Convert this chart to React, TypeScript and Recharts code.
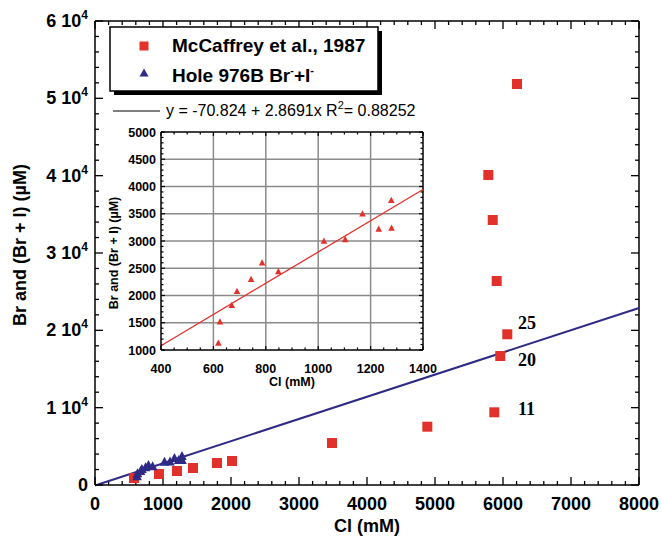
import React from 'react';
import { ScatterChart, Scatter, XAxis, YAxis, ReferenceLine } from 'recharts';

// McCaffrey et al., 1987 (red squares): Cl (mM) vs Br (µM)
const mcCl = [574, 941, 1206, 1441, 1794, 2015, 3485, 4887, 5872, 5960, 6063, 5907, 5849, 5784, 6206];
const mcBr = [905, 1422, 1810, 2198, 2845, 3104, 5431, 7539, 9401, 16682, 19488, 26380, 34268, 40088, 51856];

// Hole 976B Br- + I- (triangles): Cl (mM) vs Br + I (µM)
const holeCl = [619, 625, 670, 690, 744, 786, 848, 1022, 1103, 1169, 1231, 1279, 1280];
const holeBrI = [1130, 1520, 1820, 2080, 2300, 2600, 2440, 3000, 3030, 3500, 3220, 3750, 3240];

// Linear fit shown in the legend: y = a + b x
const fitIntercept = -70.824;
const fitSlope = 2.8691;

// Annotations (sample numbers) beside points
const noteText = ['25', '20', '11'];
const noteCl = [6220, 6220, 6220];
const noteVal = [20950, 16160, 9830];

// Axis tick definitions
const mainXMajor = [0, 1000, 2000, 3000, 4000, 5000, 6000, 7000, 8000];
const mainYMajor = [0, 10000, 20000, 30000, 40000, 50000, 60000];
const mainYLabels = ['0', '1', '2', '3', '4', '5', '6'];
const insetXMajor = [400, 600, 800, 1000, 1200, 1400];
const insetYMajor = [1000, 1500, 2000, 2500, 3000, 3500, 4000, 4500, 5000];

const range = (a: number, b: number, s: number) => {
  const out: number[] = [];
  for (let v = a; v <= b + 1e-9; v += s) out.push(v);
  return out;
};
const mainXTicks = range(0, 8000, 200);
const mainYTicks = range(0, 60000, 2000);
const insetXTicks = range(400, 1400, 50);
const insetYTicks = range(1000, 5000, 100);

const mcData = mcCl.map((cl, i) => ({ cl, v: mcBr[i] }));
const holeData = holeCl.map((cl, i) => ({ cl, v: holeBrI[i] }));
const noteData = noteText.map((t, i) => ({ cl: noteCl[i], v: noteVal[i], t }));

const RED = '#e2312b';
const BLUE = '#2e2a85';
const FONT = '"Liberation Sans", Arial, sans-serif';

const isMajor = (v: number, list: number[]) => list.some((m) => Math.abs(m - v) < 1e-6);

// ---------- tick labels ----------
const MainBottomTick = (p: any) => {
  const v = p.payload.value;
  if (!isMajor(v, mainXMajor)) return <g />;
  return (
    <text x={p.x} y={Number(p.y) + 25} textAnchor="middle" fontSize={18} fontWeight="bold" fontFamily={FONT} fill="#000">
      {v}
    </text>
  );
};
const MainLeftTick = (p: any) => {
  const v = p.payload.value;
  const idx = mainYMajor.findIndex((m) => Math.abs(m - v) < 1e-6);
  if (idx < 0) return <g />;
  return (
    <text x={Number(p.x) - 7} y={Number(p.y) + 6} textAnchor="end" fontSize={18} fontWeight="bold" fontFamily={FONT} fill="#000">
      {idx === 0 ? (
        '0'
      ) : (
        <>
          {mainYLabels[idx] + ' 10'}
          <tspan dy={-8} fontSize={12}>4</tspan>
        </>
      )}
    </text>
  );
};
const InsetBottomTick = (p: any) => {
  const v = p.payload.value;
  if (!isMajor(v, insetXMajor)) return <g />;
  return (
    <text x={p.x} y={Number(p.y) + 23} textAnchor="middle" fontSize={12.5} fontWeight="bold" fontFamily={FONT} fill="#000">
      {v}
    </text>
  );
};
const InsetLeftTick = (p: any) => {
  const v = p.payload.value;
  if (!isMajor(v, insetYMajor)) return <g />;
  return (
    <text x={Number(p.x) - 5} y={Number(p.y) + 4.5} textAnchor="end" fontSize={12.5} fontWeight="bold" fontFamily={FONT} fill="#000">
      {v}
    </text>
  );
};

// ---------- inward tick marks drawn through the chart scales ----------
// px -> data-unit conversion for tick lengths (plot area sizes)
const tickMarks = (
  xs: number[], ys: number[], xMaj: number[], yMaj: number[],
  xDom: [number, number], yDom: [number, number], wPx: number, hPx: number,
  majPx: number, minPx: number, sw: number, key: string
) => {
  const ux = (xDom[1] - xDom[0]) / wPx;
  const uy = (yDom[1] - yDom[0]) / hPx;
  const out: any[] = [];
  xs.forEach((v) => {
    const L = (isMajor(v, xMaj) ? majPx : minPx) * uy;
    out.push(<ReferenceLine key={key + 'b' + v} segment={[{ x: v, y: yDom[0] }, { x: v, y: yDom[0] + L }]} stroke="#000" strokeWidth={sw} ifOverflow="visible" />);
    out.push(<ReferenceLine key={key + 't' + v} segment={[{ x: v, y: yDom[1] }, { x: v, y: yDom[1] - L }]} stroke="#000" strokeWidth={sw} ifOverflow="visible" />);
  });
  ys.forEach((v) => {
    const L = (isMajor(v, yMaj) ? majPx : minPx) * ux;
    out.push(<ReferenceLine key={key + 'l' + v} segment={[{ x: xDom[0], y: v }, { x: xDom[0] + L, y: v }]} stroke="#000" strokeWidth={sw} ifOverflow="visible" />);
    out.push(<ReferenceLine key={key + 'r' + v} segment={[{ x: xDom[1], y: v }, { x: xDom[1] - L, y: v }]} stroke="#000" strokeWidth={sw} ifOverflow="visible" />);
  });
  return out;
};

// ---------- markers ----------
const Square = (p: any) => <rect x={p.cx - 5} y={p.cy - 5} width={10} height={10} fill={RED} />;
const BigTri = (p: any) => (
  <polygon points={`${p.cx},${p.cy - 5} ${p.cx - 4.8},${p.cy + 4} ${p.cx + 4.8},${p.cy + 4}`} fill={BLUE} />
);
const SmallTri = (p: any) => (
  <polygon points={`${p.cx},${p.cy - 3.5} ${p.cx - 3.3},${p.cy + 2.8} ${p.cx + 3.3},${p.cy + 2.8}`} fill={RED} />
);
const NoteText = (p: any) => (
  <text x={p.cx} y={p.cy + 6} fontSize={18} fontWeight="bold" fontFamily='"Liberation Serif", "Times New Roman", serif' fill="#000">
    {p.payload.t}
  </text>
);

const axisLine = { stroke: '#000', strokeWidth: 1.5 };

const MainXLabel = (lp: any) => {
  const vb = lp.viewBox;
  return (
    <text x={vb.x + vb.width / 2} y={vb.y + 47} textAnchor="middle" fontSize={18} fontWeight="bold" fontFamily={FONT} fill="#000">
      Cl (mM)
    </text>
  );
};
const MainYLabel = (lp: any) => {
  const vb = lp.viewBox;
  const cx = 20;
  const cy = vb.y + vb.height / 2 - 8;
  return (
    <text x={cx} y={cy} transform={`rotate(-90 ${cx} ${cy})`} textAnchor="middle" dominantBaseline="central" fontSize={18} fontWeight="bold" fontFamily={FONT} fill="#000">
      Br and (Br + I) (µM)
    </text>
  );
};
const InsetXLabel = (lp: any) => {
  const vb = lp.viewBox;
  return (
    <text x={vb.x + vb.width / 2} y={vb.y + 36} textAnchor="middle" fontSize={12.5} fontWeight="bold" fontFamily={FONT} fill="#000">
      Cl (mM)
    </text>
  );
};
const InsetYLabel = (lp: any) => {
  const vb = lp.viewBox;
  const cx = 19;
  const cy = vb.y + vb.height / 2 + 12;
  return (
    <text x={cx} y={cy} transform={`rotate(-90 ${cx} ${cy})`} textAnchor="middle" dominantBaseline="central" fontSize={12.5} fontWeight="bold" fontFamily={FONT} fill="#000">
      Br and (Br + I) (µM)
    </text>
  );
};

export default function App() {
  const mainLine = [
    { x: 0, y: fitIntercept + fitSlope * 0 },
    { x: 8000, y: fitIntercept + fitSlope * 8000 },
  ];
  const insetLine = [
    { x: 400, y: fitIntercept + fitSlope * 400 },
    { x: 1400, y: fitIntercept + fitSlope * 1400 },
  ];
  return (
    <div style={{ position: 'absolute', left: 0, top: 0, width: 662, height: 541, background: '#fff' }}>
      <div style={{ position: 'absolute', left: 0, top: 0 }}>
        <ScatterChart width={662} height={541} margin={{ top: 21, right: 23, bottom: 0, left: 0 }}>
          <XAxis dataKey="cl" type="number" domain={[0, 8000]} ticks={mainXTicks} interval={0} tickSize={0} tickMargin={0} tickLine={false} height={56} axisLine={axisLine} tick={<MainBottomTick />} allowDataOverflow label={<MainXLabel />} />
          <YAxis dataKey="v" type="number" domain={[0, 60000]} ticks={mainYTicks} interval={0} tickSize={0} tickMargin={0} tickLine={false} width={95} axisLine={axisLine} tick={<MainLeftTick />} allowDataOverflow label={<MainYLabel />} />
          <ReferenceLine y={60000} stroke="#000" strokeWidth={1.5} ifOverflow="visible" />
          <ReferenceLine x={8000} stroke="#000" strokeWidth={1.5} ifOverflow="visible" />
          {tickMarks(mainXTicks, mainYTicks, mainXMajor, mainYMajor, [0, 8000], [0, 60000], 544, 464, 8, 4, 1.3, 'm')}
          <ReferenceLine segment={mainLine} stroke={BLUE} strokeWidth={2} ifOverflow="visible" />
          <Scatter data={mcData} shape={Square} isAnimationActive={false} />
          <Scatter data={holeData} shape={BigTri} isAnimationActive={false} />
          <Scatter data={noteData} shape={NoteText} isAnimationActive={false} />
        </ScatterChart>
      </div>

      {/* Legend */}
      <svg width={662} height={541} style={{ position: 'absolute', left: 0, top: 0, pointerEvents: 'none' }}>
        <rect x={114} y={31} width={268} height={64} fill="#000" />
        <rect x={110} y={27} width={268} height={64} fill="#fff" stroke="#000" strokeWidth={1.5} />
        <rect x={139.5} y={41.5} width={9} height={9} fill={RED} />
        <text x={172} y={52} fontSize={19} fontWeight="bold" fontFamily={FONT} fill="#000">
          McCaffrey et al., 1987
        </text>
        <polygon points="144,68.5 139.5,76.5 148.5,76.5" fill={BLUE} />
        <text x={172} y={82} fontSize={19} fontWeight="bold" fontFamily={FONT} fill="#000">
          Hole 976B Br<tspan dy={-8} fontSize={11}>-</tspan>
          <tspan dy={8}>+I</tspan>
          <tspan dy={-8} fontSize={11}>-</tspan>
        </text>
        <line x1={113} x2={160} y1={111} y2={111} stroke="#000" strokeWidth={1.2} />
        <text x={166} y={116} fontSize={16} fontFamily={FONT} fill="#000">
          y = -70.824 + 2.8691x R<tspan dy={-7} fontSize={11}>2</tspan>
          <tspan dy={7}>= 0.88252</tspan>
        </text>
      </svg>

      {/* Inset */}
      <div style={{ position: 'absolute', left: 95, top: 120 }}>
        <ScatterChart width={355} height={275} margin={{ top: 12, right: 27, bottom: 0, left: 0 }}>
          <XAxis dataKey="cl" type="number" domain={[400, 1400]} ticks={insetXTicks} interval={0} tickSize={0} tickMargin={0} tickLine={false} height={45} axisLine={axisLine} tick={<InsetBottomTick />} allowDataOverflow label={<InsetXLabel />} />
          <YAxis dataKey="v" type="number" domain={[1000, 5000]} ticks={insetYTicks} interval={0} tickSize={0} tickMargin={0} tickLine={false} width={66} axisLine={axisLine} tick={<InsetLeftTick />} allowDataOverflow label={<InsetYLabel />} />
          {insetXMajor.slice(1, -1).map((v) => (
            <ReferenceLine key={'gx' + v} x={v} stroke="#8a8a8a" strokeWidth={1.5} />
          ))}
          {insetYMajor.slice(1, -1).map((v) => (
            <ReferenceLine key={'gy' + v} y={v} stroke="#8a8a8a" strokeWidth={1.5} />
          ))}
          <ReferenceLine y={5000} stroke="#000" strokeWidth={1.5} ifOverflow="visible" />
          <ReferenceLine x={1400} stroke="#000" strokeWidth={1.5} ifOverflow="visible" />
          {tickMarks(insetXTicks, insetYTicks, insetXMajor, insetYMajor, [400, 1400], [1000, 5000], 262, 218, 4, 2.5, 1.2, 'i')}
          <ReferenceLine segment={insetLine} stroke={RED} strokeWidth={1.3} ifOverflow="visible" />
          <Scatter data={holeData} shape={SmallTri} isAnimationActive={false} />
        </ScatterChart>
      </div>
    </div>
  );
}
